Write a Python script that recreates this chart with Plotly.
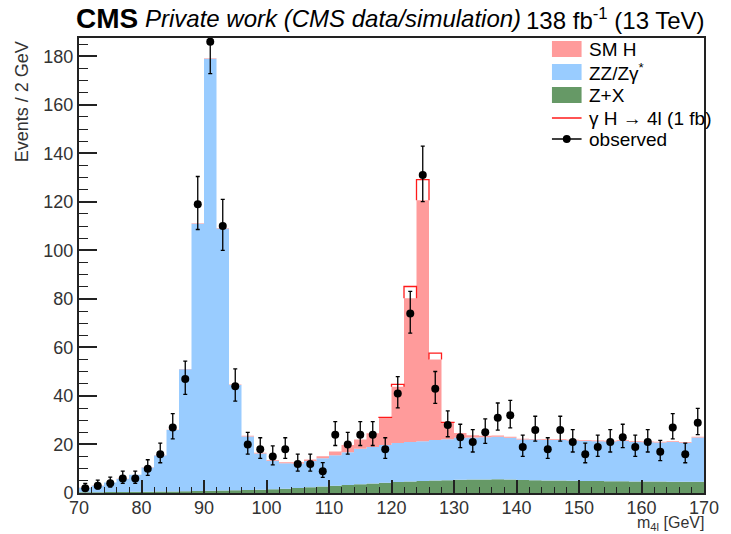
import numpy as np
import plotly.graph_objects as go

# Binning: 2 GeV bins from 70 to 170 GeV
bin_edges = list(range(70, 171, 2))
bin_centers = [e + 1 for e in bin_edges[:-1]]

# Expected yields per bin
zx = [0.3, 0.3, 0.4, 0.4, 0.5,
      0.5, 0.6, 0.6, 0.7, 0.8,
      0.9, 1.0, 1.1, 1.2, 1.3,
      1.5, 1.8, 2.1, 2.4, 2.7,
      3.0, 3.3, 3.6, 3.9, 4.2,
      4.5, 4.7, 4.9, 5.1, 5.3,
      5.5, 5.6, 5.6, 5.7, 5.6,
      5.4, 5.3, 5.2, 5.1, 5.0,
      4.9, 4.9, 4.8, 4.8, 4.7,
      4.7, 4.7, 4.6, 4.6, 4.6]

zz = [1.9, 2.7, 3.9, 5.4, 7.0,
      10.0, 14.9, 25.4, 50.3, 110.2,
      178.1, 108.0, 43.4, 22.1, 15.0,
      11.8, 10.5, 10.1, 10.8, 11.6,
      12.6, 13.5, 14.6, 15.1, 15.6,
      16.1, 16.3, 16.4, 16.7, 16.9,
      17.3, 17.3, 17.4, 17.5, 17.2,
      16.6, 16.7, 16.6, 16.7, 16.6,
      16.5, 16.4, 16.4, 16.6, 16.3,
      16.2, 16.1, 16.4, 16.1, 18.3]

smh = [0.05, 0.05, 0.05, 0.05, 0.05,
       0.1, 0.1, 0.1, 0.1, 0.2,
       0.2, 0.2, 0.2, 0.3, 0.3,
       0.3, 0.4, 0.5, 0.6, 0.8,
       1.5, 3.0, 3.8, 5.6, 11.1,
       23.2, 59.3, 99.3, 33.2, 6.6,
       1.9, 0.9, 0.6, 0.5, 0.4,
       0.4, 0.3, 0.3, 0.3, 0.3,
       0.3, 0.3, 0.3, 0.3, 0.3,
       0.3, 0.3, 0.3, 0.3, 0.3]

gamma_h = [0, 0, 0, 0, 0,
           0, 0, 0, 0, 0,
           0, 0, 0, 0, 0,
           0, 0, 0, 0, 0,
           0, 0, 0, 0, 0.3,
           1.0, 4.8, 8.5, 2.6, 0.3,
           0, 0, 0, 0, 0,
           0, 0, 0, 0, 0,
           0, 0, 0, 0, 0,
           0, 0, 0, 0, 0]

observed = [2, 3, 4, 6, 6, 10, 16, 27, 47, 119,
            186, 110, 44, 20, 18, 15, 18, 12, 12, 9,
            24, 20, 24, 24, 18, 41, 74, 131, 43, 28,
            23, 21, 25, 31, 32, 19, 26, 18, 26, 21,
            16, 19, 21, 23, 19, 21, 17, 27, 16, 29]

# Cumulative stack
s1 = np.array(zx)
s2 = s1 + np.array(zz)
s3 = s2 + np.array(smh)
s4 = s3 + np.array(gamma_h)


def steps(v):
    v = list(v)
    return v + [v[-1]]


# Outline of the signal-added total where it rises above the stack
sig_x, sig_y = [], []
for i, g in enumerate(gamma_h):
    if g > 0:
        xl, xr = bin_edges[i], bin_edges[i + 1]
        sig_x += [xl, xl, xr, xr, None]
        sig_y += [s3[i], s4[i], s4[i], s3[i], None]

# Approximate Poisson (Garwood-like) asymmetric errors
obs = np.array(observed, dtype=float)
err_lo = np.sqrt(obs + 0.25) - 0.5
err_hi = np.sqrt(obs + 0.25) + 0.5

C_ZX = "#669966"
C_ZZ = "#99ccff"
C_SMH = "#ff9b9b"
C_SIG = "#ff1a1a"
AX = "#222222"
TXT = "#333333"
FONT = "Liberation Sans"

fig = go.Figure()
fig.add_trace(go.Scatter(x=bin_edges, y=steps(s1), mode="lines", line_shape="hv",
                         line=dict(width=0, color=C_ZX), fill="tozeroy",
                         fillcolor=C_ZX, hoverinfo="skip", showlegend=False))
fig.add_trace(go.Scatter(x=bin_edges, y=steps(s2), mode="lines", line_shape="hv",
                         line=dict(width=0, color=C_ZZ), fill="tonexty",
                         fillcolor=C_ZZ, hoverinfo="skip", showlegend=False))
fig.add_trace(go.Scatter(x=bin_edges, y=steps(s3), mode="lines", line_shape="hv",
                         line=dict(width=0, color=C_SMH), fill="tonexty",
                         fillcolor=C_SMH, hoverinfo="skip", showlegend=False))
fig.add_trace(go.Scatter(x=sig_x, y=sig_y, mode="lines",
                         line=dict(width=1.3, color=C_SIG),
                         hoverinfo="skip", showlegend=False))
fig.add_trace(go.Scatter(x=bin_centers, y=observed, mode="markers",
                         marker=dict(size=8, color="black"),
                         error_y=dict(type="data", symmetric=False, array=err_hi,
                                      arrayminus=err_lo, color="black",
                                      thickness=1.3, width=2),
                         showlegend=False))

# Plot-area geometry (pixels) used for placing legend and labels
L, R, T, B = 79, 712, 38, 493


def xp(px):
    return (px - L) / (R - L)


def yp(py):
    return (B - py) / (B - T)


shapes = []
annotations = []

# Legend
legend_rows = [
    ("box", C_SMH, 49, "SM H"),
    ("box", C_ZZ, 72, "ZZ/Zγ<sup>*</sup>"),
    ("box", C_ZX, 95, "Z+X"),
    ("line", C_SIG, 118, "γ H → 4l (1 fb)"),
    ("dot", "black", 139, "observed"),
]
for kind, col, yc, label in legend_rows:
    if kind == "box":
        shapes.append(dict(type="rect", xref="paper", yref="paper",
                           x0=xp(558), x1=xp(588), y0=yp(yc + 8), y1=yp(yc - 8),
                           fillcolor=col, line=dict(width=0)))
    elif kind == "line":
        shapes.append(dict(type="line", xref="paper", yref="paper",
                           x0=xp(558), x1=xp(588), y0=yp(yc), y1=yp(yc),
                           line=dict(color=col, width=1.5)))
    else:
        shapes.append(dict(type="line", xref="paper", yref="paper",
                           x0=xp(558), x1=xp(588), y0=yp(yc), y1=yp(yc),
                           line=dict(color=col, width=1.5)))
        shapes.append(dict(type="circle", xref="paper", yref="paper",
                           x0=xp(569), x1=xp(577), y0=yp(yc + 4), y1=yp(yc - 4),
                           fillcolor=col, line=dict(width=0)))
    annotations.append(dict(x=xp(594), y=yp(yc), xref="paper", yref="paper",
                            text=label, showarrow=False, xanchor="left",
                            yanchor="middle",
                            font=dict(family=FONT, size=19, color="black")))

# Header
annotations += [
    dict(x=xp(74), y=yp(19), xref="paper", yref="paper", text="<b>CMS</b>",
         showarrow=False, xanchor="left", yanchor="middle",
         font=dict(family=FONT, size=28, color="black")),
    dict(x=xp(144), y=yp(19), xref="paper", yref="paper",
         text="<i>Private work (CMS data/simulation)</i>",
         showarrow=False, xanchor="left", yanchor="middle",
         font=dict(family=FONT, size=24, color="black")),
    dict(x=xp(715), y=yp(19), xref="paper", yref="paper",
         text="138 fb<sup>-1</sup> (13 TeV)",
         showarrow=False, xanchor="right", yanchor="middle",
         font=dict(family=FONT, size=24, color="black")),
    # Axis titles
    dict(x=xp(714), y=yp(523), xref="paper", yref="paper",
         text="m<sub>4l</sub> [GeV]", showarrow=False, xanchor="right",
         yanchor="middle", font=dict(family=FONT, size=16, color=TXT)),
    dict(x=xp(21), y=yp(39), xref="paper", yref="paper",
         text="Events / 2 GeV", showarrow=False, textangle=-90,
         xanchor="center", yanchor="top",
         font=dict(family=FONT, size=18, color=TXT)),
]

fig.update_layout(
    width=731, height=534,
    margin=dict(l=L, r=731 - R, t=T, b=534 - B),
    paper_bgcolor="white", plot_bgcolor="white",
    shapes=shapes, annotations=annotations,
    showlegend=False,
    xaxis=dict(range=[70, 170], tick0=70, dtick=10, ticks="inside", ticklen=13,
               tickwidth=1.5, tickcolor=AX, showline=True, linewidth=2,
               linecolor=AX, mirror=True, showgrid=False, zeroline=False,
               ticklabelstandoff=-3,
               tickfont=dict(family=FONT, size=18, color=TXT),
               minor=dict(dtick=2, ticks="inside", ticklen=6, tickwidth=1,
                          tickcolor=AX, showgrid=False)),
    yaxis=dict(range=[0, 187.5], tick0=0, dtick=20, ticks="inside", ticklen=18,
               tickwidth=1.5, tickcolor=AX, showline=True, linewidth=2,
               linecolor=AX, mirror=True, showgrid=False, zeroline=False,
               tickfont=dict(family=FONT, size=18, color=TXT),
               minor=dict(dtick=5, ticks="inside", ticklen=9, tickwidth=1,
                          tickcolor=AX, showgrid=False)),
)

fig.write_html("out.html")
